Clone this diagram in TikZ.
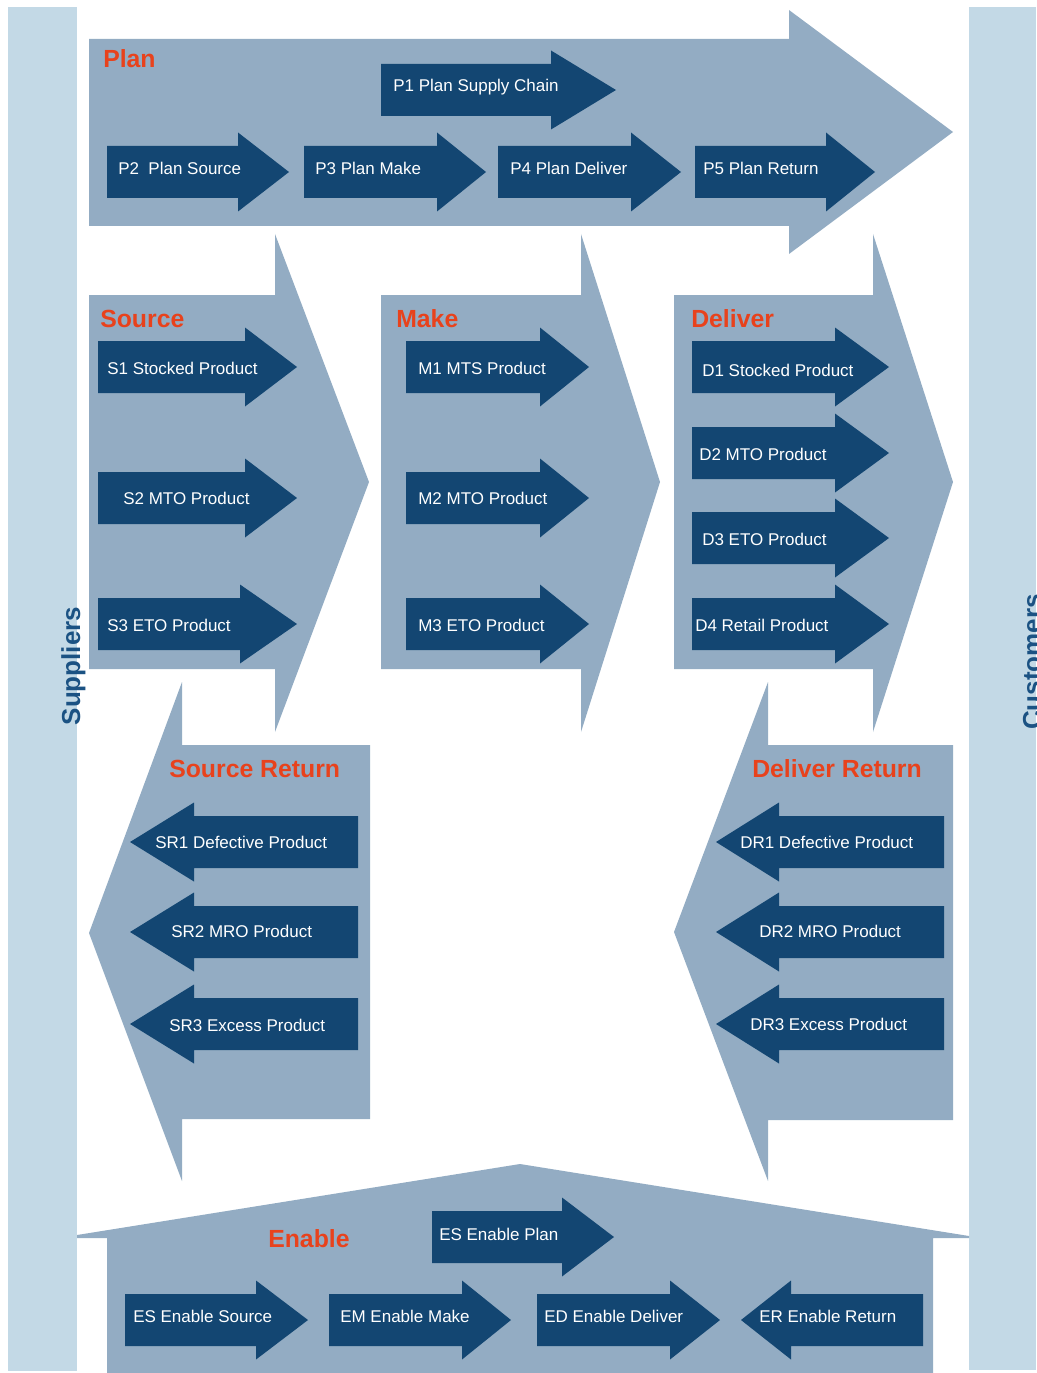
\documentclass[tikz,border=0pt]{standalone}
\usepackage{fontspec}
\setmainfont{Liberation Sans}

\definecolor{balken}{HTML}{C3D9E6}
\definecolor{hell}{HTML}{93ACC3}
\definecolor{dunkel}{HTML}{134672}
\definecolor{rot}{HTML}{E8421C}
\definecolor{seite}{HTML}{1B5283}

% Pfeil: Anfang, Ansatz der Spitze, Spitze, Mitte (y)
\newcommand{\pfeil}[4]{\fill[dunkel] (#1,#4-26) -- (#2,#4-26) -- (#2,#4-39.5) -- (#3,#4) -- (#2,#4+39.5) -- (#2,#4+26) -- (#1,#4+26) -- cycle;}

\tikzset{
	txt/.style={anchor=base west, inner sep=0pt, text=white, font=\fontsize{12.75}{15}\selectfont},
	titel/.style={anchor=base west, inner sep=0pt, text=rot, font=\fontsize{18.6}{22}\selectfont\bfseries},
	seitentxt/.style={anchor=base, inner sep=0pt, rotate=90, text=seite, font=\fontsize{19.5}{23}\selectfont\bfseries},
}

\begin{document}
\begin{tikzpicture}[x=0.75pt, y=-0.75pt]
	\useasboundingbox (0,0) rectangle (1036,1373);
	\clip (0,0) rectangle (1036,1373);

	\fill[balken] (8,7) rectangle (77,1371);			% Lieferanten
	\fill[balken] (969,7) rectangle (1036,1370);		% Kunden

	% grosse Pfeile
	\fill[hell] (89,39) -- (789,39) -- (789,10) -- (953,132) -- (789,254) -- (789,226) -- (89,226) -- cycle;		% Plan
	\fill[hell] (89,295) -- (275,295) -- (275,234) -- (369,482) -- (275,732) -- (275,669) -- (89,669) -- cycle;	% Source
	\fill[hell] (381,295) -- (581,295) -- (581,234) -- (660,482) -- (581,732) -- (581,669) -- (381,669) -- cycle;	% Make
	\fill[hell] (674,295) -- (873,295) -- (873,234) -- (953,482) -- (873,732) -- (873,669) -- (674,669) -- cycle;	% Deliver
	\fill[hell] (370,745) -- (182,745) -- (182,682) -- (89,933) -- (182,1181) -- (182,1119) -- (370,1119) -- cycle;	% Source Return
	\fill[hell] (953,745) -- (768,745) -- (768,682) -- (674,932) -- (768,1181) -- (768,1120) -- (953,1120) -- cycle;	% Deliver Return
	\fill[hell] (77,1235) -- (520,1164) -- (969,1236) -- (969,1238) -- (933,1238) -- (933,1373) -- (107,1373) -- (107,1238) -- (77,1238) -- cycle;	% Enable

	\node[seitentxt] (sup) at (80,666) {Suppliers};
	\node[seitentxt] (cus) at (1041,662) {Customers};

	% Plan
	\node[titel] (plan) at (103,68) {Plan};
	\pfeil{381}{551}{616}{90}
	\node[txt] (p1) at (393,92) {P1 Plan Supply Chain};
	\pfeil{107}{238}{289}{172}
	\node[txt] (p2) at (118,175) {P2~~Plan Source};
	\pfeil{304}{437}{486}{172}
	\node[txt] (p3) at (315,175) {P3 Plan Make};
	\pfeil{498}{631}{681}{172}
	\node[txt] (p4) at (510,175) {P4 Plan Deliver};
	\pfeil{695}{826}{875}{172}
	\node[txt] (p5) at (703,175) {P5 Plan Return};

	% Source
	\node[titel] (source) at (100,327) {Source};
	\pfeil{98}{245}{297}{367}
	\node[txt] (s1) at (107,374) {S1 Stocked Product};
	\pfeil{98}{245}{297}{498}
	\node[txt] (s2) at (123,504) {S2 MTO Product};
	\pfeil{98}{240}{297}{624}
	\node[txt] (s3) at (107,631) {S3 ETO Product};

	% Make
	\node[titel] (make) at (396,327) {Make};
	\pfeil{406}{540}{589}{367}
	\node[txt] (m1) at (418,374) {M1 MTS Product};
	\pfeil{406}{540}{589}{498}
	\node[txt] (m2) at (418,504) {M2 MTO Product};
	\pfeil{406}{540}{589}{624}
	\node[txt] (m3) at (418,631) {M3 ETO Product};

	% Deliver
	\node[titel] (deliver) at (691,327) {Deliver};
	\pfeil{692}{835}{889}{367}
	\node[txt] (d1) at (702,376) {D1 Stocked Product};
	\pfeil{692}{835}{889}{453}
	\node[txt] (d2) at (699,460) {D2 MTO Product};
	\pfeil{692}{835}{889}{538}
	\node[txt] (d3) at (702,545) {D3 ETO Product};
	\pfeil{692}{835}{889}{624}
	\node[txt] (d4) at (695,631) {D4 Retail Product};

	% Source Return
	\node[titel] (sret) at (169,777) {Source Return};
	\pfeil{358}{194}{130}{842}
	\node[txt] (sr1) at (155,848) {SR1 Defective Product};
	\pfeil{358}{194}{130}{932}
	\node[txt] (sr2) at (171,937) {SR2 MRO Product};
	\pfeil{358}{194}{130}{1024}
	\node[txt] (sr3) at (169,1031) {SR3 Excess Product};

	% Deliver Return
	\node[titel] (dret) at (752,777) {Deliver Return};
	\pfeil{944}{779}{716}{842}
	\node[txt] (dr1) at (740,848) {DR1 Defective Product};
	\pfeil{944}{779}{716}{932}
	\node[txt] (dr2) at (759,937) {DR2 MRO Product};
	\pfeil{944}{779}{716}{1024}
	\node[txt] (dr3) at (750,1030) {DR3 Excess Product};

	% Enable
	\node[titel] (enable) at (268,1247) {Enable};
	\pfeil{432}{562}{614}{1237}
	\node[txt] (ep) at (439,1240) {ES Enable Plan};
	\pfeil{125}{256}{308}{1320}
	\node[txt] (es) at (133,1322) {ES Enable Source};
	\pfeil{329}{462}{511}{1320}
	\node[txt] (em) at (340,1322) {EM Enable Make};
	\pfeil{537}{670}{720}{1320}
	\node[txt] (ed) at (544,1322) {ED Enable Deliver};
	\pfeil{923}{791}{741}{1320}
	\node[txt] (er) at (759,1322) {ER Enable Return};
\end{tikzpicture}
\end{document}
